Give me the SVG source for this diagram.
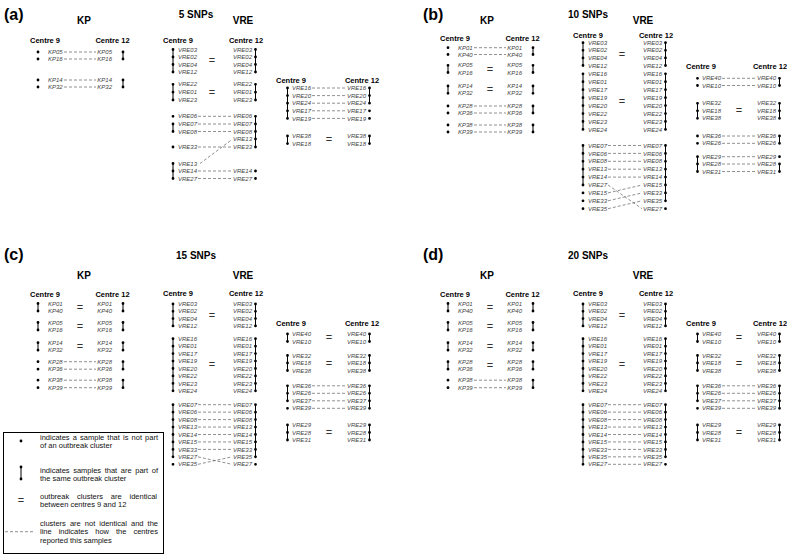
<svg xmlns="http://www.w3.org/2000/svg" width="787" height="556" viewBox="0 0 787 556">
<style>
.p{font:bold 16px "Liberation Sans",Arial,sans-serif}
.n{font:bold 10px "Liberation Sans",Arial,sans-serif;text-anchor:middle}
.h{font:bold 7.5px "Liberation Sans",Arial,sans-serif;text-anchor:middle}
.s{font:italic 6px "Liberation Sans",Arial,sans-serif;fill:#444}
.r{text-anchor:end}
.e{font:11px "Liberation Sans",Arial,sans-serif;fill:#333;text-anchor:middle}
.b{stroke:#000;stroke-width:1;fill:none}
.o{stroke:#000;stroke-width:2.8;stroke-linecap:round;fill:none}
.k{stroke:#444;stroke-width:0.6;stroke-dasharray:3 2;fill:none}
.l{font:7.5px "Liberation Sans",Arial,sans-serif;fill:#111}
</style>
<rect width="787" height="556" fill="#fff"/>

<!-- ===== Panel (a) ===== -->
<g id="a-titles">
<text class="p" x="4" y="20">(a)</text>
<text class="n" x="196" y="17.5">5 SNPs</text>
<text class="n" x="84" y="24.3">KP</text>
<text class="n" x="243" y="24.3">VRE</text>
<text class="h" x="45" y="42.7">Centre 9</text>
<text class="h" x="112.5" y="42.7">Centre 12</text>
<text class="h" x="178" y="42.7">Centre 9</text>
<text class="h" x="246" y="42.7">Centre 12</text>
<text class="h" x="291" y="82.7">Centre 9</text>
<text class="h" x="362" y="82.7">Centre 12</text>
</g>
<g id="a-kp-1">
<text class="s"><tspan x="48" y="54.1">KP05</tspan><tspan x="48" y="61.1">KP16</tspan></text>
<text class="s r"><tspan x="112" y="54.1">KP05</tspan><tspan x="112" y="61.1">KP16</tspan></text>
<path class="b" d="M123 52V59"/>
<path class="o" d="M38 52h0M38 59h0M123 52h0M123 59h0"/>
</g>
<g id="a-kp-2">
<text class="s"><tspan x="48" y="82.1">KP14</tspan><tspan x="48" y="89.1">KP32</tspan></text>
<text class="s r"><tspan x="112" y="82.1">KP14</tspan><tspan x="112" y="89.1">KP32</tspan></text>
<path class="b" d="M123 80V87"/>
<path class="o" d="M38 80h0M38 87h0M123 80h0M123 87h0"/>
</g>
<g id="a-v1-1">
<text class="s"><tspan x="178" y="51.6">VRE03</tspan><tspan x="178" y="59.1">VRE02</tspan><tspan x="178" y="66.6">VRE04</tspan><tspan x="178" y="74.1">VRE12</tspan></text>
<text class="s r"><tspan x="252" y="51.6">VRE03</tspan><tspan x="252" y="59.1">VRE02</tspan><tspan x="252" y="66.6">VRE04</tspan><tspan x="252" y="74.1">VRE12</tspan></text>
<text class="e" x="212" y="64.3">=</text>
<path class="b" d="M173 49.5V72M255.5 49.5V72"/>
<path class="o" d="M173 49.5h0M173 57h0M173 64.5h0M173 72h0M255.5 49.5h0M255.5 57h0M255.5 64.5h0M255.5 72h0"/>
</g>
<g id="a-v1-2">
<text class="s"><tspan x="178" y="86.4">VRE22</tspan><tspan x="178" y="94.3">VRE01</tspan><tspan x="178" y="102.1">VRE23</tspan></text>
<text class="s r"><tspan x="252" y="86.4">VRE22</tspan><tspan x="252" y="94.3">VRE01</tspan><tspan x="252" y="102.1">VRE23</tspan></text>
<text class="e" x="212" y="95.8">=</text>
<path class="b" d="M173 84.3V100M255.5 84.3V100"/>
<path class="o" d="M173 84.3h0M173 92.2h0M173 100h0M255.5 84.3h0M255.5 92.2h0M255.5 100h0"/>
</g>
<g id="a-v1-3">
<text class="s"><tspan x="178" y="118.4">VRE06</tspan><tspan x="178" y="126.1">VRE07</tspan><tspan x="178" y="133.6">VRE08</tspan><tspan x="178" y="149.1">VRE33</tspan></text>
<text class="s r"><tspan x="252" y="118.4">VRE06</tspan><tspan x="252" y="126.1">VRE07</tspan><tspan x="252" y="133.6">VRE08</tspan><tspan x="252" y="141.1">VRE13</tspan><tspan x="252" y="149.1">VRE33</tspan></text>
<path class="b" d="M173 124V131.5M255.5 116.3V147"/>
<path class="o" d="M173 116.3h0M173 124h0M173 131.5h0M173 147h0M255.5 116.3h0M255.5 124h0M255.5 131.5h0M255.5 139h0M255.5 147h0"/>
</g>
<g id="a-v1-4">
<text class="s"><tspan x="178" y="165.6">VRE13</tspan><tspan x="178" y="173.1">VRE14</tspan><tspan x="178" y="180.6">VRE27</tspan></text>
<text class="s r"><tspan x="252" y="173.1">VRE14</tspan><tspan x="252" y="180.6">VRE27</tspan></text>
<path class="b" d="M173 163.5V178.5"/>
<path class="o" d="M173 163.5h0M173 171h0M173 178.5h0M255.5 171h0M255.5 178.5h0"/>
</g>
<g id="a-v2-1">
<text class="s"><tspan x="292" y="90.1">VRE16</tspan><tspan x="292" y="97.7">VRE20</tspan><tspan x="292" y="105.3">VRE24</tspan><tspan x="292" y="112.9">VRE17</tspan><tspan x="292" y="120.5">VRE19</tspan></text>
<text class="s r"><tspan x="366" y="90.1">VRE16</tspan><tspan x="366" y="97.7">VRE20</tspan><tspan x="366" y="105.3">VRE24</tspan><tspan x="366" y="112.9">VRE17</tspan><tspan x="366" y="120.5">VRE19</tspan></text>
<path class="b" d="M287.5 88V118.4M369.5 88V103.2"/>
<path class="o" d="M287.5 88h0M287.5 95.6h0M287.5 103.2h0M287.5 110.8h0M287.5 118.4h0M369.5 88h0M369.5 95.6h0M369.5 103.2h0M369.5 110.8h0M369.5 118.4h0"/>
</g>
<g id="a-v2-2">
<text class="s"><tspan x="292" y="138.1">VRE38</tspan><tspan x="292" y="145.7">VRE18</tspan></text>
<text class="s r"><tspan x="366" y="138.1">VRE38</tspan><tspan x="366" y="145.7">VRE18</tspan></text>
<text class="e" x="329" y="143.4">=</text>
<path class="b" d="M287.5 136V143.6M369.5 136V143.6"/>
<path class="o" d="M287.5 136h0M287.5 143.6h0M369.5 136h0M369.5 143.6h0"/>
</g>

<!-- ===== Panel (b) ===== -->
<g id="b-titles">
<text class="p" x="423" y="20">(b)</text>
<text class="n" x="588" y="17.5">10 SNPs</text>
<text class="n" x="487" y="24.3">KP</text>
<text class="n" x="643" y="24.3">VRE</text>
<text class="h" x="455" y="41">Centre 9</text>
<text class="h" x="522.5" y="41">Centre 12</text>
<text class="h" x="588" y="37.5">Centre 9</text>
<text class="h" x="656" y="37.5">Centre 12</text>
<text class="h" x="701" y="69.4">Centre 9</text>
<text class="h" x="770" y="69.4">Centre 12</text>
</g>
<g id="b-kp-1">
<text class="s"><tspan x="458" y="49.8">KP01</tspan><tspan x="458" y="56.6">KP40</tspan></text>
<text class="s r"><tspan x="522" y="49.8">KP01</tspan><tspan x="522" y="56.6">KP40</tspan></text>
<path class="b" d="M533 47.7V54.5"/>
<path class="o" d="M448 47.7h0M448 54.5h0M533 47.7h0M533 54.5h0"/>
</g>
<g id="b-kp-2">
<text class="s"><tspan x="458" y="67.4">KP05</tspan><tspan x="458" y="74.6">KP16</tspan></text>
<text class="s r"><tspan x="522" y="67.4">KP05</tspan><tspan x="522" y="74.6">KP16</tspan></text>
<text class="e" x="490" y="72.5">=</text>
<path class="b" d="M448 65.3V72.5M533 65.3V72.5"/>
<path class="o" d="M448 65.3h0M448 72.5h0M533 65.3h0M533 72.5h0"/>
</g>
<g id="b-kp-3">
<text class="s"><tspan x="458" y="88.1">KP14</tspan><tspan x="458" y="95.4">KP32</tspan></text>
<text class="s r"><tspan x="522" y="88.1">KP14</tspan><tspan x="522" y="95.4">KP32</tspan></text>
<text class="e" x="490" y="93.25">=</text>
<path class="b" d="M448 86V93.3M533 86V93.3"/>
<path class="o" d="M448 86h0M448 93.3h0M533 86h0M533 93.3h0"/>
</g>
<g id="b-kp-4">
<text class="s"><tspan x="458" y="108.1">KP28</tspan><tspan x="458" y="115.1">KP36</tspan></text>
<text class="s r"><tspan x="522" y="108.1">KP28</tspan><tspan x="522" y="115.1">KP36</tspan></text>
<path class="b" d="M533 106V113"/>
<path class="o" d="M448 106h0M448 113h0M533 106h0M533 113h0"/>
</g>
<g id="b-kp-5">
<text class="s"><tspan x="458" y="127.1">KP38</tspan><tspan x="458" y="134.1">KP39</tspan></text>
<text class="s r"><tspan x="522" y="127.1">KP38</tspan><tspan x="522" y="134.1">KP39</tspan></text>
<path class="b" d="M533 125V132"/>
<path class="o" d="M448 125h0M448 132h0M533 125h0M533 132h0"/>
</g>
<g id="b-v1-1">
<text class="s"><tspan x="588" y="44.8">VRE03</tspan><tspan x="588" y="52.4">VRE02</tspan><tspan x="588" y="60">VRE04</tspan><tspan x="588" y="67.6">VRE12</tspan></text>
<text class="s r"><tspan x="662" y="44.8">VRE03</tspan><tspan x="662" y="52.4">VRE02</tspan><tspan x="662" y="60">VRE04</tspan><tspan x="662" y="67.6">VRE12</tspan></text>
<text class="e" x="622" y="57.7">=</text>
<path class="b" d="M583 42.7V65.5M665.5 42.7V65.5"/>
<path class="o" d="M583 42.7h0M583 50.3h0M583 57.9h0M583 65.5h0M665.5 42.7h0M665.5 50.3h0M665.5 57.9h0M665.5 65.5h0"/>
</g>
<g id="b-v1-2">
<text class="s"><tspan x="588" y="75.9">VRE16</tspan><tspan x="588" y="83.85">VRE01</tspan><tspan x="588" y="91.8">VRE17</tspan><tspan x="588" y="99.75">VRE19</tspan><tspan x="588" y="107.7">VRE20</tspan><tspan x="588" y="115.65">VRE22</tspan><tspan x="588" y="123.6">VRE23</tspan><tspan x="588" y="131.55">VRE24</tspan></text>
<text class="s r"><tspan x="662" y="75.9">VRE16</tspan><tspan x="662" y="83.85">VRE01</tspan><tspan x="662" y="91.8">VRE17</tspan><tspan x="662" y="99.75">VRE19</tspan><tspan x="662" y="107.7">VRE20</tspan><tspan x="662" y="115.65">VRE22</tspan><tspan x="662" y="123.6">VRE23</tspan><tspan x="662" y="131.55">VRE24</tspan></text>
<text class="e" x="622" y="105.2">=</text>
<path class="b" d="M583 73.8V129.45M665.5 73.8V129.45"/>
<path class="o" d="M583 73.8h0M583 81.75h0M583 89.7h0M583 97.65h0M583 105.6h0M583 113.55h0M583 121.5h0M583 129.45h0M665.5 73.8h0M665.5 81.75h0M665.5 89.7h0M665.5 97.65h0M665.5 105.6h0M665.5 113.55h0M665.5 121.5h0M665.5 129.45h0"/>
</g>
<g id="b-v1-3">
<text class="s"><tspan x="588" y="147.6">VRE07</tspan><tspan x="588" y="155.5">VRE06</tspan><tspan x="588" y="163.4">VRE08</tspan><tspan x="588" y="171.3">VRE13</tspan><tspan x="588" y="179.2">VRE14</tspan><tspan x="588" y="187.1">VRE27</tspan><tspan x="588" y="195">VRE15</tspan><tspan x="588" y="202.9">VRE33</tspan><tspan x="588" y="210.8">VRE35</tspan></text>
<text class="s r"><tspan x="662" y="147.6">VRE07</tspan><tspan x="662" y="155.5">VRE06</tspan><tspan x="662" y="163.4">VRE08</tspan><tspan x="662" y="171.3">VRE13</tspan><tspan x="662" y="179.2">VRE14</tspan><tspan x="662" y="187.1">VRE15</tspan><tspan x="662" y="195">VRE33</tspan><tspan x="662" y="202.9">VRE35</tspan><tspan x="662" y="210.8">VRE27</tspan></text>
<path class="b" d="M583 145.5V185M665.5 145.5V200.8"/>
<path class="o" d="M583 145.5h0M583 153.4h0M583 161.3h0M583 169.2h0M583 177.1h0M583 185h0M583 192.9h0M583 200.8h0M583 208.7h0M665.5 145.5h0M665.5 153.4h0M665.5 161.3h0M665.5 169.2h0M665.5 177.1h0M665.5 185h0M665.5 192.9h0M665.5 200.8h0M665.5 208.7h0"/>
</g>
<g id="b-v2-1">
<text class="s"><tspan x="702" y="80.4">VRE40</tspan><tspan x="702" y="87.6">VRE10</tspan></text>
<text class="s r"><tspan x="776" y="80.4">VRE40</tspan><tspan x="776" y="87.6">VRE10</tspan></text>
<path class="b" d="M779.5 78.3V85.5"/>
<path class="o" d="M697.5 78.3h0M697.5 85.5h0M779.5 78.3h0M779.5 85.5h0"/>
</g>
<g id="b-v2-2">
<text class="s"><tspan x="702" y="105.4">VRE32</tspan><tspan x="702" y="112.9">VRE18</tspan><tspan x="702" y="120.4">VRE38</tspan></text>
<text class="s r"><tspan x="776" y="105.4">VRE32</tspan><tspan x="776" y="112.9">VRE18</tspan><tspan x="776" y="120.4">VRE38</tspan></text>
<text class="e" x="739" y="114.4">=</text>
<path class="b" d="M697.5 103.3V118.3M779.5 103.3V118.3"/>
<path class="o" d="M697.5 103.3h0M697.5 110.8h0M697.5 118.3h0M779.5 103.3h0M779.5 110.8h0M779.5 118.3h0"/>
</g>
<g id="b-v2-3">
<text class="s"><tspan x="702" y="138.1">VRE36</tspan><tspan x="702" y="145.4">VRE26</tspan></text>
<text class="s r"><tspan x="776" y="138.1">VRE36</tspan><tspan x="776" y="145.4">VRE26</tspan></text>
<path class="b" d="M779.5 136V143.3"/>
<path class="o" d="M697.5 136h0M697.5 143.3h0M779.5 136h0M779.5 143.3h0"/>
</g>
<g id="b-v2-4">
<text class="s"><tspan x="702" y="158.8">VRE29</tspan><tspan x="702" y="166.1">VRE28</tspan><tspan x="702" y="173.6">VRE31</tspan></text>
<text class="s r"><tspan x="776" y="158.8">VRE29</tspan><tspan x="776" y="166.1">VRE28</tspan><tspan x="776" y="173.6">VRE31</tspan></text>
<path class="b" d="M697.5 156.7V171.5M779.5 164V171.5"/>
<path class="o" d="M697.5 156.7h0M697.5 164h0M697.5 171.5h0M779.5 156.7h0M779.5 164h0M779.5 171.5h0"/>
</g>

<!-- ===== Panel (c) ===== -->
<g id="c-titles">
<text class="p" x="4" y="260">(c)</text>
<text class="n" x="196" y="258.5">15 SNPs</text>
<text class="n" x="84" y="278.6">KP</text>
<text class="n" x="243" y="278.6">VRE</text>
<text class="h" x="45" y="296.7">Centre 9</text>
<text class="h" x="112.5" y="296.7">Centre 12</text>
<text class="h" x="178" y="296.2">Centre 9</text>
<text class="h" x="246" y="296.2">Centre 12</text>
<text class="h" x="291" y="326">Centre 9</text>
<text class="h" x="362" y="326">Centre 12</text>
</g>
<g id="c-kp-1">
<text class="s"><tspan x="48" y="305.6">KP01</tspan><tspan x="48" y="313.1">KP40</tspan></text>
<text class="s r"><tspan x="112" y="305.6">KP01</tspan><tspan x="112" y="313.1">KP40</tspan></text>
<text class="e" x="80" y="310.85">=</text>
<path class="b" d="M38 303.5V311M123 303.5V311"/>
<path class="o" d="M38 303.5h0M38 311h0M123 303.5h0M123 311h0"/>
</g>
<g id="c-kp-2">
<text class="s"><tspan x="48" y="324.6">KP05</tspan><tspan x="48" y="332.1">KP16</tspan></text>
<text class="s r"><tspan x="112" y="324.6">KP05</tspan><tspan x="112" y="332.1">KP16</tspan></text>
<text class="e" x="80" y="329.85">=</text>
<path class="b" d="M38 322.5V330M123 322.5V330"/>
<path class="o" d="M38 322.5h0M38 330h0M123 322.5h0M123 330h0"/>
</g>
<g id="c-kp-3">
<text class="s"><tspan x="48" y="344.8">KP14</tspan><tspan x="48" y="352.3">KP32</tspan></text>
<text class="s r"><tspan x="112" y="344.8">KP14</tspan><tspan x="112" y="352.3">KP32</tspan></text>
<text class="e" x="80" y="350.05">=</text>
<path class="b" d="M38 342.7V350.2M123 342.7V350.2"/>
<path class="o" d="M38 342.7h0M38 350.2h0M123 342.7h0M123 350.2h0"/>
</g>
<g id="c-kp-4">
<text class="s"><tspan x="48" y="363.8">KP28</tspan><tspan x="48" y="371.3">KP36</tspan></text>
<text class="s r"><tspan x="112" y="363.8">KP28</tspan><tspan x="112" y="371.3">KP36</tspan></text>
<path class="b" d="M123 361.7V369.2"/>
<path class="o" d="M38 361.7h0M38 369.2h0M123 361.7h0M123 369.2h0"/>
</g>
<g id="c-kp-5">
<text class="s"><tspan x="48" y="382.3">KP38</tspan><tspan x="48" y="389.8">KP39</tspan></text>
<text class="s r"><tspan x="112" y="382.3">KP38</tspan><tspan x="112" y="389.8">KP39</tspan></text>
<path class="b" d="M123 380.2V387.7"/>
<path class="o" d="M38 380.2h0M38 387.7h0M123 380.2h0M123 387.7h0"/>
</g>
<g id="c-v1-1">
<text class="s"><tspan x="178" y="306.1">VRE03</tspan><tspan x="178" y="313.4">VRE02</tspan><tspan x="178" y="320.7">VRE04</tspan><tspan x="178" y="328">VRE12</tspan></text>
<text class="s r"><tspan x="252" y="306.1">VRE03</tspan><tspan x="252" y="313.4">VRE02</tspan><tspan x="252" y="320.7">VRE04</tspan><tspan x="252" y="328">VRE12</tspan></text>
<text class="e" x="212" y="318.6">=</text>
<path class="b" d="M173 304V325.9M255.5 304V325.9"/>
<path class="o" d="M173 304h0M173 311.3h0M173 318.6h0M173 325.9h0M255.5 304h0M255.5 311.3h0M255.5 318.6h0M255.5 325.9h0"/>
</g>
<g id="c-v1-2">
<text class="s"><tspan x="178" y="340.8">VRE16</tspan><tspan x="178" y="348.25">VRE01</tspan><tspan x="178" y="355.7">VRE17</tspan><tspan x="178" y="363.15">VRE19</tspan><tspan x="178" y="370.6">VRE20</tspan><tspan x="178" y="378.05">VRE22</tspan><tspan x="178" y="385.5">VRE23</tspan><tspan x="178" y="392.95">VRE24</tspan></text>
<text class="s r"><tspan x="252" y="340.8">VRE16</tspan><tspan x="252" y="348.25">VRE01</tspan><tspan x="252" y="355.7">VRE17</tspan><tspan x="252" y="363.15">VRE19</tspan><tspan x="252" y="370.6">VRE20</tspan><tspan x="252" y="378.05">VRE22</tspan><tspan x="252" y="385.5">VRE23</tspan><tspan x="252" y="392.95">VRE24</tspan></text>
<text class="e" x="212" y="368.4">=</text>
<path class="b" d="M173 338.7V390.85M255.5 338.7V390.85"/>
<path class="o" d="M173 338.7h0M173 346.15h0M173 353.6h0M173 361.05h0M173 368.5h0M173 375.95h0M173 383.4h0M173 390.85h0M255.5 338.7h0M255.5 346.15h0M255.5 353.6h0M255.5 361.05h0M255.5 368.5h0M255.5 375.95h0M255.5 383.4h0M255.5 390.85h0"/>
</g>
<g id="c-v1-3">
<text class="s"><tspan x="178" y="406.8">VRE07</tspan><tspan x="178" y="414.25">VRE06</tspan><tspan x="178" y="421.7">VRE08</tspan><tspan x="178" y="429.15">VRE13</tspan><tspan x="178" y="436.6">VRE14</tspan><tspan x="178" y="444.05">VRE15</tspan><tspan x="178" y="451.5">VRE33</tspan><tspan x="178" y="458.95">VRE27</tspan><tspan x="178" y="466.4">VRE35</tspan></text>
<text class="s r"><tspan x="252" y="406.8">VRE07</tspan><tspan x="252" y="414.25">VRE06</tspan><tspan x="252" y="421.7">VRE08</tspan><tspan x="252" y="429.15">VRE13</tspan><tspan x="252" y="436.6">VRE14</tspan><tspan x="252" y="444.05">VRE15</tspan><tspan x="252" y="451.5">VRE33</tspan><tspan x="252" y="458.95">VRE35</tspan><tspan x="252" y="466.4">VRE27</tspan></text>
<path class="b" d="M173 404.7V456.85M255.5 404.7V456.85"/>
<path class="o" d="M173 404.7h0M173 412.15h0M173 419.6h0M173 427.05h0M173 434.5h0M173 441.95h0M173 449.4h0M173 456.85h0M173 464.3h0M255.5 404.7h0M255.5 412.15h0M255.5 419.6h0M255.5 427.05h0M255.5 434.5h0M255.5 441.95h0M255.5 449.4h0M255.5 456.85h0M255.5 464.3h0"/>
</g>
<g id="c-v2-1">
<text class="s"><tspan x="292" y="336.1">VRE40</tspan><tspan x="292" y="343.6">VRE10</tspan></text>
<text class="s r"><tspan x="366" y="336.1">VRE40</tspan><tspan x="366" y="343.6">VRE10</tspan></text>
<text class="e" x="329" y="341.35">=</text>
<path class="b" d="M287.5 334V341.5M369.5 334V341.5"/>
<path class="o" d="M287.5 334h0M287.5 341.5h0M369.5 334h0M369.5 341.5h0"/>
</g>
<g id="c-v2-2">
<text class="s"><tspan x="292" y="357.6">VRE32</tspan><tspan x="292" y="365.1">VRE18</tspan><tspan x="292" y="372.6">VRE38</tspan></text>
<text class="s r"><tspan x="366" y="357.6">VRE32</tspan><tspan x="366" y="365.1">VRE18</tspan><tspan x="366" y="372.6">VRE38</tspan></text>
<text class="e" x="329" y="366.6">=</text>
<path class="b" d="M287.5 355.5V370.5M369.5 355.5V370.5"/>
<path class="o" d="M287.5 355.5h0M287.5 363h0M287.5 370.5h0M369.5 355.5h0M369.5 363h0M369.5 370.5h0"/>
</g>
<g id="c-v2-3">
<text class="s"><tspan x="292" y="387.9">VRE36</tspan><tspan x="292" y="395.4">VRE26</tspan><tspan x="292" y="402.9">VRE37</tspan><tspan x="292" y="410.4">VRE39</tspan></text>
<text class="s r"><tspan x="366" y="387.9">VRE36</tspan><tspan x="366" y="395.4">VRE26</tspan><tspan x="366" y="402.9">VRE37</tspan><tspan x="366" y="410.4">VRE39</tspan></text>
<path class="b" d="M287.5 385.8V400.8M369.5 385.8V408.3"/>
<path class="o" d="M287.5 385.8h0M287.5 393.3h0M287.5 400.8h0M287.5 408.3h0M369.5 385.8h0M369.5 393.3h0M369.5 400.8h0M369.5 408.3h0"/>
</g>
<g id="c-v2-4">
<text class="s"><tspan x="292" y="427.1">VRE29</tspan><tspan x="292" y="434.6">VRE28</tspan><tspan x="292" y="442.1">VRE31</tspan></text>
<text class="s r"><tspan x="366" y="427.1">VRE29</tspan><tspan x="366" y="434.6">VRE28</tspan><tspan x="366" y="442.1">VRE31</tspan></text>
<text class="e" x="329" y="436.1">=</text>
<path class="b" d="M287.5 425V440M369.5 425V440"/>
<path class="o" d="M287.5 425h0M287.5 432.5h0M287.5 440h0M369.5 425h0M369.5 432.5h0M369.5 440h0"/>
</g>

<!-- ===== Panel (d) ===== -->
<g id="d-titles">
<text class="p" x="423" y="260">(d)</text>
<text class="n" x="588" y="258.5">20 SNPs</text>
<text class="n" x="487" y="278.6">KP</text>
<text class="n" x="643" y="278.6">VRE</text>
<text class="h" x="455" y="296.7">Centre 9</text>
<text class="h" x="522.5" y="296.7">Centre 12</text>
<text class="h" x="588" y="296.2">Centre 9</text>
<text class="h" x="656" y="296.2">Centre 12</text>
<text class="h" x="701" y="326">Centre 9</text>
<text class="h" x="770" y="326">Centre 12</text>
</g>
<g id="d-kp-1">
<text class="s"><tspan x="458" y="305.6">KP01</tspan><tspan x="458" y="313.1">KP40</tspan></text>
<text class="s r"><tspan x="522" y="305.6">KP01</tspan><tspan x="522" y="313.1">KP40</tspan></text>
<text class="e" x="490" y="310.85">=</text>
<path class="b" d="M448 303.5V311M533 303.5V311"/>
<path class="o" d="M448 303.5h0M448 311h0M533 303.5h0M533 311h0"/>
</g>
<g id="d-kp-2">
<text class="s"><tspan x="458" y="324.6">KP05</tspan><tspan x="458" y="332.1">KP16</tspan></text>
<text class="s r"><tspan x="522" y="324.6">KP05</tspan><tspan x="522" y="332.1">KP16</tspan></text>
<text class="e" x="490" y="329.85">=</text>
<path class="b" d="M448 322.5V330M533 322.5V330"/>
<path class="o" d="M448 322.5h0M448 330h0M533 322.5h0M533 330h0"/>
</g>
<g id="d-kp-3">
<text class="s"><tspan x="458" y="344.8">KP14</tspan><tspan x="458" y="352.3">KP32</tspan></text>
<text class="s r"><tspan x="522" y="344.8">KP14</tspan><tspan x="522" y="352.3">KP32</tspan></text>
<text class="e" x="490" y="350.05">=</text>
<path class="b" d="M448 342.7V350.2M533 342.7V350.2"/>
<path class="o" d="M448 342.7h0M448 350.2h0M533 342.7h0M533 350.2h0"/>
</g>
<g id="d-kp-4">
<text class="s"><tspan x="458" y="363.8">KP28</tspan><tspan x="458" y="371.3">KP36</tspan></text>
<text class="s r"><tspan x="522" y="363.8">KP28</tspan><tspan x="522" y="371.3">KP36</tspan></text>
<text class="e" x="490" y="369.05">=</text>
<path class="b" d="M448 361.7V369.2M533 361.7V369.2"/>
<path class="o" d="M448 361.7h0M448 369.2h0M533 361.7h0M533 369.2h0"/>
</g>
<g id="d-kp-5">
<text class="s"><tspan x="458" y="382.3">KP38</tspan><tspan x="458" y="389.8">KP39</tspan></text>
<text class="s r"><tspan x="522" y="382.3">KP38</tspan><tspan x="522" y="389.8">KP39</tspan></text>
<path class="b" d="M533 380.2V387.7"/>
<path class="o" d="M448 380.2h0M448 387.7h0M533 380.2h0M533 387.7h0"/>
</g>
<g id="d-v1-1">
<text class="s"><tspan x="588" y="306.1">VRE03</tspan><tspan x="588" y="313.4">VRE02</tspan><tspan x="588" y="320.7">VRE04</tspan><tspan x="588" y="328">VRE12</tspan></text>
<text class="s r"><tspan x="662" y="306.1">VRE03</tspan><tspan x="662" y="313.4">VRE02</tspan><tspan x="662" y="320.7">VRE04</tspan><tspan x="662" y="328">VRE12</tspan></text>
<text class="e" x="622" y="318.6">=</text>
<path class="b" d="M583 304V325.9M665.5 304V325.9"/>
<path class="o" d="M583 304h0M583 311.3h0M583 318.6h0M583 325.9h0M665.5 304h0M665.5 311.3h0M665.5 318.6h0M665.5 325.9h0"/>
</g>
<g id="d-v1-2">
<text class="s"><tspan x="588" y="340.8">VRE16</tspan><tspan x="588" y="348.25">VRE01</tspan><tspan x="588" y="355.7">VRE17</tspan><tspan x="588" y="363.15">VRE19</tspan><tspan x="588" y="370.6">VRE20</tspan><tspan x="588" y="378.05">VRE22</tspan><tspan x="588" y="385.5">VRE23</tspan><tspan x="588" y="392.95">VRE24</tspan></text>
<text class="s r"><tspan x="662" y="340.8">VRE16</tspan><tspan x="662" y="348.25">VRE01</tspan><tspan x="662" y="355.7">VRE17</tspan><tspan x="662" y="363.15">VRE19</tspan><tspan x="662" y="370.6">VRE20</tspan><tspan x="662" y="378.05">VRE22</tspan><tspan x="662" y="385.5">VRE23</tspan><tspan x="662" y="392.95">VRE24</tspan></text>
<text class="e" x="622" y="368.4">=</text>
<path class="b" d="M583 338.7V390.85M665.5 338.7V390.85"/>
<path class="o" d="M583 338.7h0M583 346.15h0M583 353.6h0M583 361.05h0M583 368.5h0M583 375.95h0M583 383.4h0M583 390.85h0M665.5 338.7h0M665.5 346.15h0M665.5 353.6h0M665.5 361.05h0M665.5 368.5h0M665.5 375.95h0M665.5 383.4h0M665.5 390.85h0"/>
</g>
<g id="d-v1-3">
<text class="s"><tspan x="588" y="406.8">VRE07</tspan><tspan x="588" y="414.25">VRE06</tspan><tspan x="588" y="421.7">VRE08</tspan><tspan x="588" y="429.15">VRE13</tspan><tspan x="588" y="436.6">VRE14</tspan><tspan x="588" y="444.05">VRE15</tspan><tspan x="588" y="451.5">VRE33</tspan><tspan x="588" y="458.95">VRE35</tspan><tspan x="588" y="466.4">VRE27</tspan></text>
<text class="s r"><tspan x="662" y="406.8">VRE07</tspan><tspan x="662" y="414.25">VRE06</tspan><tspan x="662" y="421.7">VRE08</tspan><tspan x="662" y="429.15">VRE13</tspan><tspan x="662" y="436.6">VRE14</tspan><tspan x="662" y="444.05">VRE15</tspan><tspan x="662" y="451.5">VRE33</tspan><tspan x="662" y="458.95">VRE35</tspan><tspan x="662" y="466.4">VRE27</tspan></text>
<path class="b" d="M583 404.7V464.3M665.5 404.7V456.85"/>
<path class="o" d="M583 404.7h0M583 412.15h0M583 419.6h0M583 427.05h0M583 434.5h0M583 441.95h0M583 449.4h0M583 456.85h0M583 464.3h0M665.5 404.7h0M665.5 412.15h0M665.5 419.6h0M665.5 427.05h0M665.5 434.5h0M665.5 441.95h0M665.5 449.4h0M665.5 456.85h0M665.5 464.3h0"/>
</g>
<g id="d-v2-1">
<text class="s"><tspan x="702" y="336.1">VRE40</tspan><tspan x="702" y="343.6">VRE10</tspan></text>
<text class="s r"><tspan x="776" y="336.1">VRE40</tspan><tspan x="776" y="343.6">VRE10</tspan></text>
<text class="e" x="739" y="341.35">=</text>
<path class="b" d="M697.5 334V341.5M779.5 334V341.5"/>
<path class="o" d="M697.5 334h0M697.5 341.5h0M779.5 334h0M779.5 341.5h0"/>
</g>
<g id="d-v2-2">
<text class="s"><tspan x="702" y="357.6">VRE32</tspan><tspan x="702" y="365.1">VRE18</tspan><tspan x="702" y="372.6">VRE38</tspan></text>
<text class="s r"><tspan x="776" y="357.6">VRE32</tspan><tspan x="776" y="365.1">VRE18</tspan><tspan x="776" y="372.6">VRE38</tspan></text>
<text class="e" x="739" y="366.6">=</text>
<path class="b" d="M697.5 355.5V370.5M779.5 355.5V370.5"/>
<path class="o" d="M697.5 355.5h0M697.5 363h0M697.5 370.5h0M779.5 355.5h0M779.5 363h0M779.5 370.5h0"/>
</g>
<g id="d-v2-3">
<text class="s"><tspan x="702" y="387.9">VRE36</tspan><tspan x="702" y="395.4">VRE26</tspan><tspan x="702" y="402.9">VRE37</tspan><tspan x="702" y="410.4">VRE39</tspan></text>
<text class="s r"><tspan x="776" y="387.9">VRE36</tspan><tspan x="776" y="395.4">VRE26</tspan><tspan x="776" y="402.9">VRE37</tspan><tspan x="776" y="410.4">VRE39</tspan></text>
<path class="b" d="M697.5 385.8V400.8M779.5 385.8V408.3"/>
<path class="o" d="M697.5 385.8h0M697.5 393.3h0M697.5 400.8h0M697.5 408.3h0M779.5 385.8h0M779.5 393.3h0M779.5 400.8h0M779.5 408.3h0"/>
</g>
<g id="d-v2-4">
<text class="s"><tspan x="702" y="427.1">VRE29</tspan><tspan x="702" y="434.6">VRE28</tspan><tspan x="702" y="442.1">VRE31</tspan></text>
<text class="s r"><tspan x="776" y="427.1">VRE29</tspan><tspan x="776" y="434.6">VRE28</tspan><tspan x="776" y="442.1">VRE31</tspan></text>
<text class="e" x="739" y="436.1">=</text>
<path class="b" d="M697.5 425V440M779.5 425V440"/>
<path class="o" d="M697.5 425h0M697.5 432.5h0M697.5 440h0M779.5 425h0M779.5 432.5h0M779.5 440h0"/>
</g>

<!-- ===== Connectors ===== -->
<g id="connectors">
<path id="a-links" class="k" d="M64 52H96M64 59H96M64 80H96M64 87H96M198 116.3H232M198 124H232M198 131.5H232M198 147H232M198 171H232M198 178.5H232M200 163.5L232 139.5M312 88H346M312 95.6H346M312 103.2H346M312 110.8H346M312 118.4H346"/>
<path id="b-links" class="k" d="M474 47.7H506M474 54.5H506M474 106H506M474 113H506M474 125H506M474 132H506M608 145.5H642M608 153.4H642M608 161.3H642M608 169.2H642M608 177.1H642M608 185L642 208.7M608 192.9L642 185M608 200.8L642 192.9M608 208.7L642 200.8M722 78.3H756M722 85.5H756M722 136H756M722 143.3H756M722 156.7H756M722 164H756M722 171.5H756"/>
<path id="c-links" class="k" d="M64 361.7H96M64 369.2H96M64 380.2H96M64 387.7H96M198 404.7H232M198 412.15H232M198 419.6H232M198 427.05H232M198 434.5H232M198 441.95H232M198 449.4H232M198 456.85L232 464.3M198 464.3L232 456.85M312 385.8H346M312 393.3H346M312 400.8H346M312 408.3H346"/>
<path id="d-links" class="k" d="M474 380.2H506M474 387.7H506M608 404.7H642M608 412.15H642M608 419.6H642M608 427.05H642M608 434.5H642M608 441.95H642M608 449.4H642M608 456.85H642M608 464.3H642M722 385.8H756M722 393.3H756M722 400.8H756M722 408.3H756"/>
</g>

<!-- ===== Legend ===== -->
<g id="legend">
<rect x="3.5" y="432.5" width="160" height="121" fill="#fff" stroke="#000" stroke-width="1"/>
<path class="o" d="M21 441h0M21 467h0M21 479h0"/>
<path class="b" d="M21 467V479"/>
<text class="e" x="21" y="503.6">=</text>
<path class="k" d="M5 531.7H35"/>
<text class="l"><tspan x="40" y="439.7" word-spacing="1.05">indicates a sample that is not part</tspan><tspan x="40" y="447.7">of an outbreak cluster</tspan></text>
<text class="l"><tspan x="40" y="473.2" word-spacing="1.5">indicates samples that are part of</tspan><tspan x="40" y="481.2">the same outbreak cluster</tspan></text>
<text class="l"><tspan x="40" y="499.2" word-spacing="5.8">outbreak clusters are identical</tspan><tspan x="40" y="507.2">between centres 9 and 12</tspan></text>
<text class="l"><tspan x="40" y="526" word-spacing="2">clusters are not identical and the</tspan><tspan x="40" y="534.4" word-spacing="4.9">line indicates how the centres</tspan><tspan x="40" y="542.7">reported this samples</tspan></text>
</g>
</svg>
